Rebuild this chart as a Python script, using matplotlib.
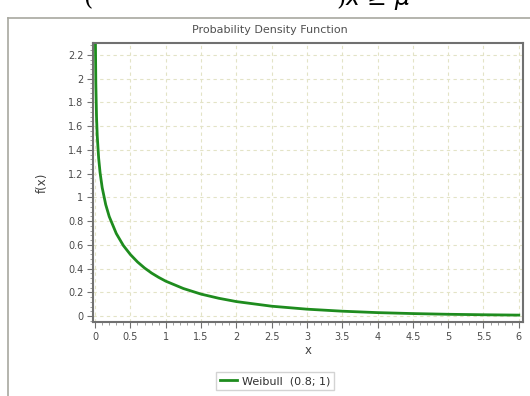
import matplotlib
matplotlib.use("Agg")
import matplotlib.pyplot as plt
from matplotlib.ticker import AutoMinorLocator
from matplotlib.lines import Line2D

# Data (Weibull (0.8; 1) density curve)
x_vals = [0.002, 0.003, 0.005, 0.01, 0.02, 0.03, 0.05, 0.07, 0.1, 0.15, 0.2, 0.3, 0.4,
          0.5, 0.6, 0.7, 0.8, 0.9, 1.0, 1.25, 1.5, 1.75, 2.0, 2.5, 3.0, 3.5, 4.0,
          4.5, 5.0, 5.5, 6.0]
f_vals = [2.754, 2.532, 2.275, 1.959, 1.675, 1.518, 1.330, 1.209, 1.082, 0.939, 0.838,
          0.695, 0.594, 0.518, 0.456, 0.405, 0.362, 0.326, 0.294, 0.232, 0.185,
          0.150, 0.122, 0.083, 0.058, 0.041, 0.029, 0.021, 0.015, 0.011, 0.008]
x_ticks = [0, 0.5, 1, 1.5, 2, 2.5, 3, 3.5, 4, 4.5, 5, 5.5, 6]
x_tick_labels = ["0", "0.5", "1", "1.5", "2", "2.5", "3", "3.5", "4", "4.5", "5", "5.5", "6"]
y_ticks = [0, 0.2, 0.4, 0.6, 0.8, 1.0, 1.2, 1.4, 1.6, 1.8, 2.0, 2.2]
y_tick_labels = ["0", "0.2", "0.4", "0.6", "0.8", "1", "1.2", "1.4", "1.6", "1.8", "2", "2.2"]
series_label = "Weibull  (0.8; 1)"

W, H = 530, 396
fig = plt.figure(figsize=(W / 100, H / 100), dpi=100)
fig.patch.set_facecolor("white")

def fx(px):
    return px / W

def fy(py):
    return 1 - py / H

# Outer frame (left and top border lines)
fig.add_artist(Line2D([fx(8), fx(8)], [fy(18), 0], color="#a8a8a0", lw=1.2))
fig.add_artist(Line2D([fx(8), 1], [fy(18), fy(18)], color="#a8a8a0", lw=1.2))

# Cut-off formula text at the very top (as in the screenshot)
fig.text(fx(83), fy(5), "(", fontsize=17, family="DejaVu Serif", va="baseline", color="black")
fig.text(fx(336), fy(5), ")$x$ \u2265 $\\mu$", fontsize=17, family="DejaVu Serif",
         va="baseline", color="black")

ax = fig.add_axes([fx(93), fy(322), fx(523) - fx(93), fy(43) - fy(322)])
ax.plot(x_vals, f_vals, color="#1e8c1e", lw=2.0, solid_joinstyle="round", clip_on=True)

ax.set_xlim(-0.03, 6.06)
ax.set_ylim(-0.05, 2.3)
ax.set_xticks(x_ticks)
ax.set_xticklabels(x_tick_labels)
ax.set_yticks(y_ticks)
ax.set_yticklabels(y_tick_labels)
ax.xaxis.set_minor_locator(AutoMinorLocator(5))
ax.yaxis.set_minor_locator(AutoMinorLocator(5))

ax.grid(True, which="major", color="#e3e3c6", linestyle=(0, (3, 3)), lw=0.8)
ax.set_axisbelow(True)
for s in ax.spines.values():
    s.set_color("#707070")
    s.set_linewidth(1.5)

ax.tick_params(axis="both", which="major", length=4, width=0.8, color="#707070",
               labelsize=7, labelcolor="#4a4a4a", pad=3)
ax.tick_params(axis="both", which="minor", length=2, width=0.6, color="#909090")

ax.set_xlabel("x", fontsize=8.5, color="#404040", labelpad=2)
ax.set_ylabel("f(x)", fontsize=8.5, color="#404040", labelpad=14)

fig.text(fx(270), fy(30), "Probability Density Function", ha="center", va="center",
         fontsize=8, color="#505050")

handle = Line2D([], [], color="#1e8c1e", lw=2)
fig.legend([handle], [series_label], loc="center", bbox_to_anchor=(fx(275), fy(381)),
           fontsize=8, frameon=True, fancybox=False, edgecolor="#c8c8c8",
           handlelength=1.6, handletextpad=0.4, borderpad=0.35, labelcolor="#303030")

fig.savefig("out.png", dpi=100)
